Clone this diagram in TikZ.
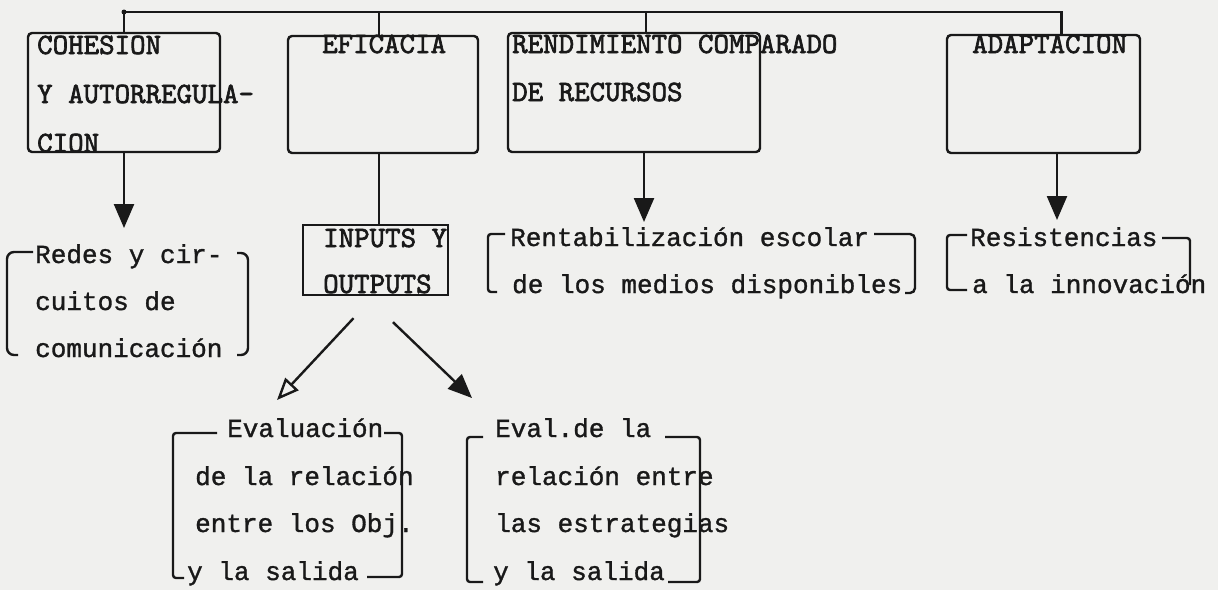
\documentclass[tikz,border=0pt]{standalone}
\usepackage{fontspec}
\usetikzlibrary{arrows.meta}
\newfontfamily\maquina{Liberation Mono}[FakeBold=1.2]
\newfontfamily\mayusculas{lmmono10-regular.otf}[FakeBold=2.2]
\definecolor{papel}{RGB}{240,240,238}
\definecolor{tinta}{RGB}{25,25,25}
\tikzstyle{caja} = [rectangle, draw=tinta, line width=2.4pt, rounded corners=4pt]
\tikzstyle{mayus} = [font=\mayusculas\fontsize{29.5}{35}\selectfont,
    text=tinta, inner sep=0pt, anchor=base west]
\tikzstyle{minus} = [font=\maquina\fontsize{26}{31}\selectfont, text=tinta,
    inner sep=0pt, anchor=base west]
\tikzstyle{linea} = [draw=tinta, line width=2.4pt]
\tikzstyle{flecha} = [linea, -{Triangle[length=24pt,width=20pt]}]
\tikzstyle{flechahueca} = [linea, -{Triangle[open,length=22pt,width=18pt]}]
\tikzstyle{corchete} = [linea, rounded corners=3pt]

\begin{document}
\begin{tikzpicture}[x=1pt,y=-1pt]
  \path[use as bounding box, fill=papel] (0,0) rectangle (1218,590);

  % cajas de arriba
  \node [caja, minimum width=192pt, minimum height=119pt] (cohesion) at (124,92.5) {};
  \node [caja, minimum width=190pt, minimum height=117pt] (eficacia) at (383,94.5) {};
  \node [caja, minimum width=252pt, minimum height=119pt] (rendimiento) at (634,92.5) {};
  \node [caja, minimum width=193pt, minimum height=118pt] (adaptacion) at (1043.5,94) {};
  \node [caja, sharp corners, minimum width=145pt, minimum height=70pt] (inputs) at (375.5,260) {};

  \node [mayus] (cohesion1) at (37,54) {COHESION};
  \node [mayus] (cohesion2) at (37,103) {Y AUTORREGULA-};
  \node [mayus] (cohesion3) at (37,152) {CION};
  \node [mayus] (eficacia1) at (322,53) {EFICACIA};
  \node [mayus] (rendimiento1) at (512,53) {RENDIMIENTO COMPARADO};
  \node [mayus] (rendimiento2) at (512,101) {DE RECURSOS};
  \node [mayus] (adaptacion1) at (972,53) {ADAPTACION};
  \node [mayus] (inputs1) at (323,247) {INPUTS Y};
  \node [mayus] (inputs2) at (323,293) {OUTPUTS};

  % textos de abajo
  \node [minus] (redes1) at (35,263) {Redes y cir-};
  \node [minus] (redes2) at (35,310) {cuitos de};
  \node [minus] (redes3) at (35,357) {comunicación};
  \node [minus] (rentab1) at (510,246) {Rentabilización escolar};
  \node [minus] (rentab2) at (512,293) {de los medios disponibles};
  \node [minus] (resist1) at (970,246) {Resistencias};
  \node [minus] (resist2) at (972,293) {a la innovación};
  \node [minus] (evalua1) at (227,437) {Evaluación};
  \node [minus] (evalua2) at (195,485) {de la relación};
  \node [minus] (evalua3) at (195,532) {entre los Obj.};
  \node [minus] (evalua4) at (187,580) {y la salida};
  \node [minus] (estrat1) at (495,437) {Eval.de la};
  \node [minus] (estrat2) at (495,485) {relación entre};
  \node [minus] (estrat3) at (495,532) {las estrategias};
  \node [minus] (estrat4) at (493,580) {y la salida};

  % corchetes
  \draw [corchete, rounded corners=7pt] (33,252) -- (7,252) -- (7,355) -- (18,355);
  \draw [corchete, rounded corners=7pt] (237,253) -- (248,253) -- (248,355) -- (237,355);
  \draw [corchete] (505,234) -- (488,234) -- (488,292) -- (497,292);
  \draw [corchete, rounded corners=5pt] (874,234) -- (915,234) -- (915,293) -- (905,293);
  \draw [corchete] (967,235) -- (947,235) -- (947,290) -- (967,290);
  \draw [corchete] (1162,238) -- (1190,238) -- (1190,285);
  \draw [corchete] (217,433) -- (173,433) -- (173,578) -- (184,578);
  \draw [corchete] (384,433) -- (402,433) -- (402,577) -- (367,577);
  \draw [corchete] (483,437) -- (467,437) -- (467,582) -- (483,582);
  \draw [corchete] (665,437) -- (700,437) -- (700,582) -- (668,582);

  % conectores
  \coordinate (bus) at (0,12);
  \coordinate (puntaredes) at (124,228);
  \coordinate (puntarentab) at (644,222);
  \coordinate (puntaresist) at (1057,220);
  \coordinate (puntaevalua) at (277,400);
  \coordinate (puntaestrat) at (472,398);

  \draw [linea] (cohesion.north) -- (cohesion.north |- bus) -| ([xshift=18pt]adaptacion.north);
  \fill [tinta] (cohesion.north |- bus) circle (2.5pt);
  \draw [linea] ([xshift=-4pt]eficacia.north) -- ([xshift=-4pt]eficacia.north |- bus);
  \draw [linea] ([xshift=12pt]rendimiento.north) -- ([xshift=12pt]rendimiento.north |- bus);
  \draw [linea] ([xshift=-4pt]eficacia.south) -- ([xshift=-4pt]eficacia.south |- inputs.north);

  \draw [flecha] (cohesion.south) -- (puntaredes);
  \draw [flecha] ([xshift=10pt]rendimiento.south) -- (puntarentab);
  \draw [flecha] ([xshift=13.5pt]adaptacion.south) -- (puntaresist);
  \draw [flechahueca] ([xshift=-22pt,yshift=-22pt]inputs.south) -- (puntaevalua);
  \draw [flecha] ([xshift=17.5pt,yshift=-26pt]inputs.south) -- (puntaestrat);
\end{tikzpicture}
\end{document}
